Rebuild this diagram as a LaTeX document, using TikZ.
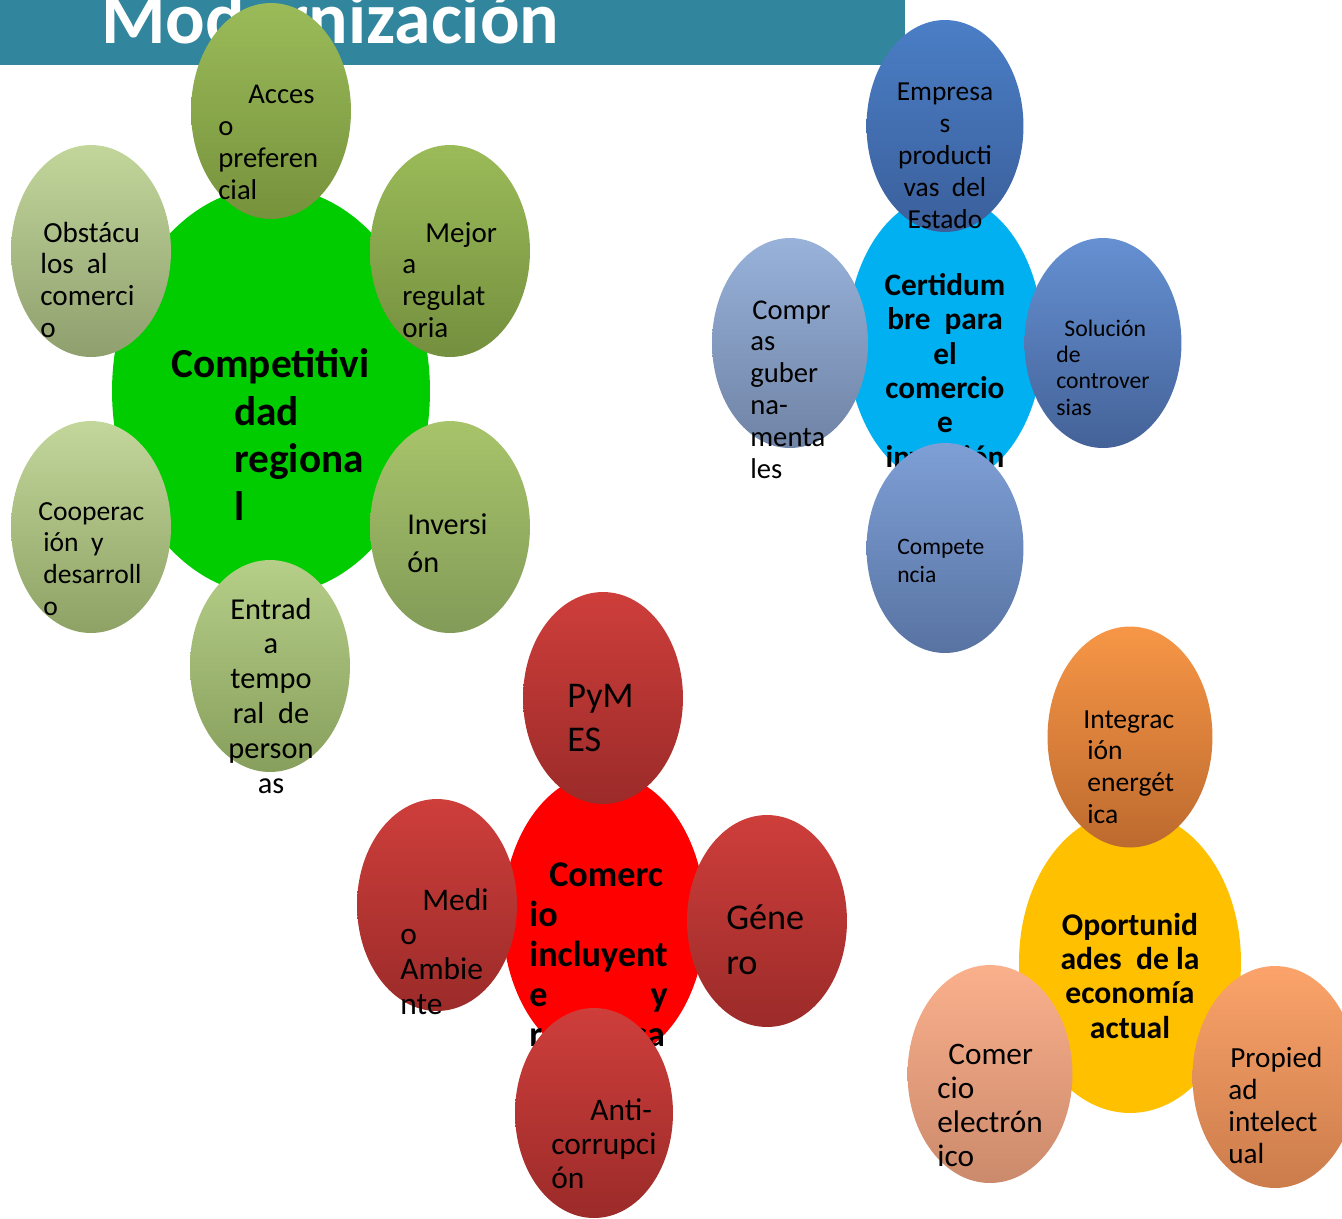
\documentclass[tikz,border=0pt]{standalone}
\usepackage{fontspec}
\setmainfont{Carlito}
\usetikzlibrary{shapes.geometric}

\definecolor{bannerteal}{RGB}{49,133,156}
\definecolor{hubgreen}{RGB}{0,204,0}
\definecolor{hubblue}{RGB}{0,176,240}
\definecolor{hubred}{RGB}{255,0,0}
\definecolor{hubgold}{RGB}{255,192,0}
\definecolor{accesoA}{RGB}{155,187,89}
\definecolor{accesoB}{RGB}{118,146,60}
\definecolor{mejoraA}{RGB}{155,187,89}
\definecolor{mejoraB}{RGB}{116,143,62}
\definecolor{inversionA}{RGB}{168,196,106}
\definecolor{inversionB}{RGB}{130,155,88}
\definecolor{entradaA}{RGB}{181,206,136}
\definecolor{entradaB}{RGB}{135,159,92}
\definecolor{cooperacionA}{RGB}{195,214,155}
\definecolor{cooperacionB}{RGB}{142,162,101}
\definecolor{obstaculosA}{RGB}{194,214,155}
\definecolor{obstaculosB}{RGB}{143,159,110}
\definecolor{empresasA}{RGB}{74,126,198}
\definecolor{empresasB}{RGB}{59,95,155}
\definecolor{solucionA}{RGB}{101,144,210}
\definecolor{solucionB}{RGB}{68,98,152}
\definecolor{competenciaA}{RGB}{126,159,214}
\definecolor{competenciaB}{RGB}{88,115,162}
\definecolor{comprasA}{RGB}{152,178,218}
\definecolor{comprasB}{RGB}{111,131,165}
\definecolor{redleafA}{RGB}{206,62,59}
\definecolor{redleafB}{RGB}{155,43,41}
\definecolor{integracionA}{RGB}{247,150,70}
\definecolor{integracionB}{RGB}{189,106,47}
\definecolor{electronicoA}{RGB}{251,176,140}
\definecolor{electronicoB}{RGB}{203,138,108}
\definecolor{propiedadA}{RGB}{251,163,106}
\definecolor{propiedadB}{RGB}{203,124,75}

\begin{document}
\begin{tikzpicture}[x=0.02cm, y=-0.02cm,
    hub/.style={ellipse, inner sep=0pt},
    leaf/.style={ellipse, inner sep=0pt, minimum width=3.2cm, minimum height=4.24cm, top color=#1A, bottom color=#1B},
    lbl/.style={inner sep=0pt, align=left, anchor=base west},
    clbl/.style={inner sep=0pt, align=center, anchor=base},
    fs/.style 2 args={font=\fontsize{#1}{#2}\selectfont},
    bfs/.style 2 args={font=\bfseries\fontsize{#1}{#2}\selectfont}]

    \useasboundingbox (0,0) rectangle (1342,1218);
    \clip (0,0) rectangle (1342,1218);

    \fill[bannerteal] (0,0) rectangle (905,65);
    \node[lbl, bfs={42}{50}, text=white] (title) at (101,43) {Modernización};

    % Competitividad regional
    \node[hub, fill=hubgreen, minimum width=6.36cm, minimum height=8.16cm] (comp) at (271,391) {};
    \node[lbl, bfs={23.5}{27}] (compT) at (171,520) {Competitivi\\\hspace*{1.26cm}dad\\\hspace*{1.26cm}regiona\\\hspace*{1.26cm}l};
    \node[leaf=acceso, minimum height=4.32cm] (acceso) at (271,111) {};
    \node[lbl, fs={16.3}{18.1}] (accesoT) at (218,199) {\hspace*{0.6cm}Acces\\o\\preferen\\cial};
    \node[leaf=mejora] (mejora) at (450,251) {};
    \node[lbl, fs={16.5}{18}] (mejoraT) at (402,337) {\hspace*{0.46cm}Mejor\\a\\regulat\\oria};
    \node[leaf=inversion] (inversion) at (450,527) {};
    \node[lbl, fs={17.2}{21.5}] (inversionT) at (407,572) {Inversi\\ón};
    \node[leaf=entrada] (entrada) at (270,666) {};
    \node[clbl, fs={17.3}{19.8}] (entradaT) at (271,793) {Entrad\\a\\tempo\\ral\ \ de\\person\\as};
    \node[leaf=cooperacion] (cooperacion) at (91,527) {};
    \node[lbl, fs={15.7}{18}] (cooperacionT) at (38,615) {Cooperac\\\hspace*{0.1cm}ión\ \ y\\\hspace*{0.1cm}desarroll\\\hspace*{0.1cm}o};
    \node[leaf=obstaculos] (obstaculos) at (91,251) {};
    \node[lbl, fs={16.6}{18}] (obstaculosT) at (40,337) {\hspace*{0.06cm}Obstácu\\los\ \ al\\comerci\\o};

    % Certidumbre para el comercio e inversion
    \node[hub, fill=hubblue, minimum width=3.92cm, minimum height=5.8cm] (cert) at (945,340) {};
    \node[clbl, bfs={17.8}{19.5}] (certT) at (945,467) {Certidum\\bre\ \ para\\el\\comercio\\e\\inversión};
    \node[leaf=empresas, minimum width=3.14cm, minimum height=4.24cm] (empresas) at (945,126) {};
    \node[clbl, fs={15.6}{18.1}] (empresasT) at (945,228) {Empresa\\s\\producti\\vas\ \ del\\Estado};
    \node[leaf=solucion, minimum width=3.14cm, minimum height=4.2cm] (solucion) at (1103,343) {};
    \node[lbl, fs={13.5}{14.9}] (solucionT) at (1056,415) {\hspace*{0.16cm}Solución\\de\\controver\\sias};
    \node[leaf=competencia, minimum width=3.14cm, minimum height=4.2cm] (competencia) at (945,548) {};
    \node[lbl, fs={13.4}{15.9}] (competenciaT) at (897,582) {Compete\\ncia};
    \node[leaf=compras, minimum width=3.12cm, minimum height=4.2cm] (compras) at (790,343) {};
    \node[lbl, fs={16.3}{18.1}] (comprasT) at (750,478) {\hspace*{0.04cm}Compr\\as\\guber\\na-\\menta\\les};

    % Comercio incluyente y responsable
    \node[hub, fill=hubred, minimum width=4.06cm, minimum height=5.8cm] (incl) at (604,918) {};
    \node[lbl, bfs={20.6}{22.7}] (inclT) at (529,1086) {\hspace*{0.4cm}Comerc\\io\\incluyent\\e\hspace{2.06cm}y\\responsa\\ble};
    \node[leaf=redleaf] (pymes) at (603,698) {};
    \node[lbl, fs={20.6}{25}] (pymesT) at (567,751) {PyM\\ES};
    \node[leaf=redleaf] (medio) at (437,905) {};
    \node[lbl, fs={17.9}{19.7}] (medioT) at (400,1014) {\hspace*{0.44cm}Medi\\o\\Ambie\\nte};
    \node[leaf=redleaf] (genero) at (767,921) {};
    \node[lbl, fs={20.6}{25.5}] (generoT) at (726,974) {Géne\\ro};
    \node[leaf=redleaf, minimum width=3.16cm, minimum height=4.2cm] (anti) at (594,1113) {};
    \node[lbl, fs={17.9}{19.3}] (antiT) at (551,1188) {\hspace*{0.78cm}Anti-\\corrupci\\ón};

    % Oportunidades de la economia actual
    \node[hub, fill=hubgold, minimum width=4.44cm, minimum height=6.04cm] (oport) at (1130,962) {};
    \node[clbl, bfs={18}{19.5}] (oportT) at (1130,1038) {Oportunid\\ades\ \ de la\\economía\\actual};
    \node[leaf=integracion, minimum width=3.3cm, minimum height=4.42cm] (integracion) at (1130,737) {};
    \node[lbl, fs={15.7}{18}] (integracionT) at (1083,823) {Integrac\\\hspace*{0.08cm}ión\\\hspace*{0.08cm}energét\\\hspace*{0.08cm}ica};
    \node[leaf=electronico, minimum width=3.3cm, minimum height=4.36cm] (electronico) at (990,1074) {};
    \node[lbl, fs={17.8}{19.3}] (electronicoT) at (937,1166) {\hspace*{0.22cm}Comer\\cio\\electrón\\ico};
    \node[leaf=propiedad, minimum width=3.3cm, minimum height=4.44cm] (propiedad) at (1275,1077) {};
    \node[lbl, fs={16.6}{18.1}] (propiedadT) at (1228,1163) {\hspace*{0.04cm}Propied\\ad\\intelect\\ual};
\end{tikzpicture}
\end{document}
